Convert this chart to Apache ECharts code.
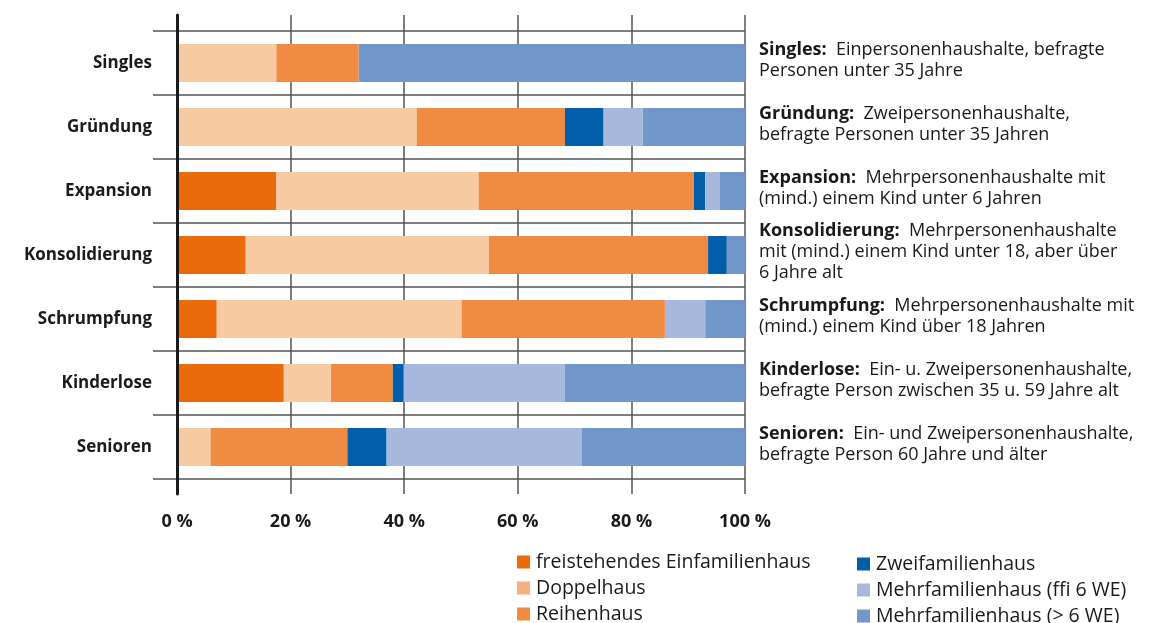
<!DOCTYPE html>
<html>
<head>
<meta charset="utf-8">
<script src="https://cdn.jsdelivr.net/npm/echarts@6/dist/echarts.min.js"></script>
<style>
  html, body { margin: 0; padding: 0; background: #fff; }
  #chart { width: 1158px; height: 623px; }
</style>
</head>
<body>
<div id="chart"></div>
<script>
// Haushaltstypen (von oben nach unten)
let categories = ["Singles", "Gründung", "Expansion", "Konsolidierung", "Schrumpfung", "Kinderlose", "Senioren"];

// Anteile in %
let einfam   = [0, 0, 17.5, 12.1, 7.0, 18.8, 0];
let doppel   = [17.5, 42.2, 35.6, 42.8, 43.1, 8.3, 5.9];
let reihen   = [14.5, 26.1, 37.9, 38.6, 35.8, 10.9, 24.1];
let zweifam  = [0, 6.8, 2.0, 3.3, 0, 1.9, 6.9];
let mfhKlein = [0, 6.9, 2.6, 0, 7.1, 28.4, 34.4];
let mfhGross = [68.0, 18.0, 4.4, 3.2, 7.0, 31.7, 28.7];

let seriesNames = [
  "freistehendes Einfamilienhaus",
  "Doppelhaus",
  "Reihenhaus",
  "Zweifamilienhaus",
  "Mehrfamilienhaus (ffi 6 WE)",
  "Mehrfamilienhaus (> 6 WE)",
];

let xTicks = ["0 %", "20 %", "40 %", "60 %", "80 %", "100 %"];

// Erläuterungen rechts
let noteTitles = ["Singles:", "Gründung:", "Expansion:", "Konsolidierung:", "Schrumpfung:", "Kinderlose:", "Senioren:"];
let noteLines = [
  ["Einpersonenhaushalte, befragte", "Personen unter 35 Jahre"],
  ["Zweipersonenhaushalte,", "befragte Personen unter 35 Jahren"],
  ["Mehrpersonenhaushalte mit", "(mind.) einem Kind unter 6 Jahren"],
  ["Mehrpersonenhaushalte", "mit (mind.) einem Kind unter 18, aber über", "6 Jahre alt"],
  ["Mehrpersonenhaushalte mit", "(mind.) einem Kind über 18 Jahren"],
  ["Ein- u. Zweipersonenhaushalte,", "befragte Person zwischen 35 u. 59 Jahre alt"],
  ["Ein- und Zweipersonenhaushalte,", "befragte Person 60 Jahre und älter"],
];

let color = ["#EA6A0C", "#F8CAA1", "#EF8C41", "#005EAA", "#A6B8DC", "#7297CA"];
let font = "'Open Sans', sans-serif";

let chart = echarts.init(document.getElementById("chart"));

let seriesInfo = () => {
  let seriesNow = [];
  let values = [einfam, doppel, reihen, zweifam, mfhKlein, mfhGross];
  for (let i = 0; i < values.length; i++) {
    seriesNow.push({
      name: seriesNames[i],
      type: "bar",
      stack: "total",
      xAxisIndex: 1,
      yAxisIndex: 1,
      barWidth: 38,
      color: color[i],
      z: 2,
      data: values[i],
    });
  }
  return seriesNow;
};

let legendItem = (i) => {
  let item = { name: seriesNames[i] };
  if (i === 1) item.itemStyle = { color: "#F5B07C" };
  return item;
};

let legendBase = {
  orient: "vertical",
  icon: "rect",
  itemWidth: 13,
  itemHeight: 13,
  itemGap: 6,
  height: 100,
  padding: 0,
  selectedMode: false,
  textStyle: { fontFamily: font, fontSize: 19.5, color: "#1a1a1a", lineHeight: 20, padding: [0, 0, 0, 1] },
};

let option = {
  animation: false,
  textStyle: { fontFamily: font },
  legend: [
    Object.assign({}, legendBase, { left: 517, top: 552, data: [0, 1, 2].map(legendItem) }),
    Object.assign({}, legendBase, { left: 857, top: 554, data: [3, 4, 5].map(legendItem) }),
  ],
  grid: [
    { left: 177, right: 413, top: 15, bottom: 129 },
    { left: 177, right: 413, top: 31, bottom: 144 },
  ],
  xAxis: [
    {
      gridIndex: 0,
      type: "value",
      min: 0,
      max: 100,
      interval: 20,
      axisLine: { show: false },
      axisTick: { show: false },
      splitLine: { show: true, lineStyle: { color: "#555", width: 1.5 } },
      axisLabel: {
        margin: 19,
        fontFamily: font,
        fontSize: 18,
        fontWeight: "bold",
        color: "#1a1a1a",
        formatter: (v) => xTicks[v / 20],
      },
    },
    {
      gridIndex: 1,
      type: "value",
      min: 0,
      max: 100,
      show: false,
    },
  ],
  yAxis: [
    {
      gridIndex: 0,
      type: "value",
      min: 0,
      max: 1,
      z: 10,
      axisLine: { show: true, lineStyle: { color: "#1a1a1a", width: 3 } },
      axisTick: { show: false },
      axisLabel: { show: false },
      splitLine: { show: false },
    },
    {
      gridIndex: 1,
      type: "category",
      data: categories,
      inverse: true,
      axisLine: { show: false },
      axisTick: { show: true, length: 24, lineStyle: { color: "#555", width: 1.5 } },
      splitLine: { show: true, lineStyle: { color: "#555", width: 1.5 } },
      axisLabel: {
        margin: 25,
        fontFamily: font,
        fontSize: 17,
        fontWeight: "bold",
        color: "#1a1a1a",
      },
    },
    {
      gridIndex: 1,
      type: "category",
      data: categories,
      inverse: true,
      position: "right",
      axisLine: { show: false },
      axisTick: { show: false },
      splitLine: { show: false },
      axisLabel: {
        margin: 14,
        align: "left",
        padding: [0, 0, 6, 0],
        formatter: (v, i) => {
          let lines = noteLines[i];
          let str = "{b|" + noteTitles[i] + "}{n|  " + lines[0] + "}";
          for (let k = 1; k < lines.length; k++) {
            str = str + "\n{n|" + lines[k] + "}";
          }
          return str;
        },
        rich: {
          b: { fontFamily: font, fontSize: 18, fontWeight: "bold", color: "#1a1a1a", lineHeight: 21 },
          n: { fontFamily: font, fontSize: 18, color: "#1a1a1a", lineHeight: 21 },
        },
      },
    },
  ],
  series: seriesInfo(),
};
chart.setOption(option);
</script>
</body>
</html>
